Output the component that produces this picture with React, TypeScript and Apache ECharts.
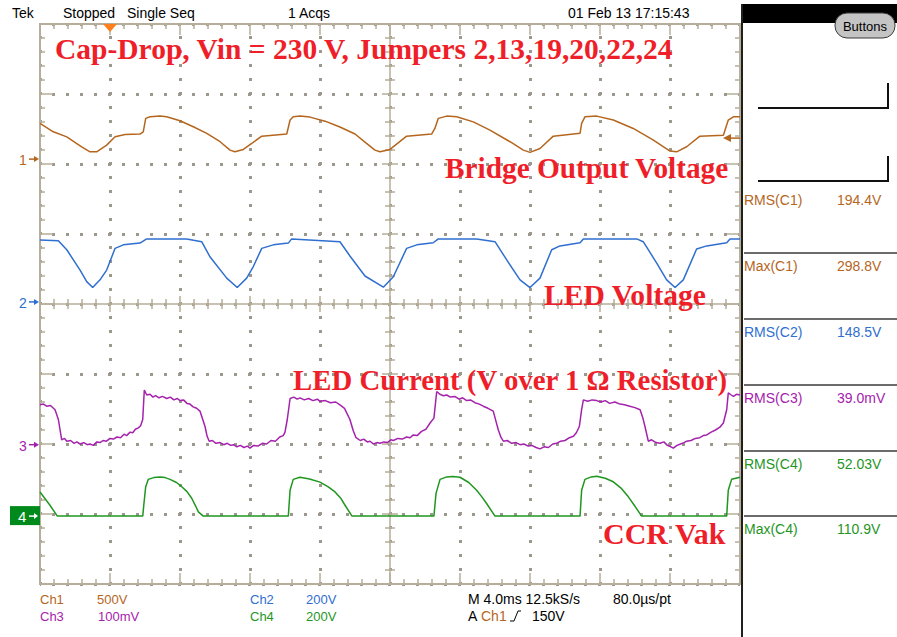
import React, { useEffect, useRef } from "react";
import * as echarts from "echarts";

// ---- Data (time in ms, 4 ms/div over 10 divisions) ----
const ch1Time = [0, 0.76, 1.53, 2.38, 2.86, 3.24, 3.81, 4.29, 4.86, 5.71, 5.9, 6.04, 6.29, 6.86, 7.24, 8.0, 8.76, 9.53, 10.29, 10.86, 11.14, 11.62, 12.1, 12.67, 14.1, 14.29, 14.47, 14.86, 15.43, 16.29, 17.14, 18.0, 18.57, 19.14, 19.43, 20.0, 20.95, 22.38, 22.57, 22.76, 23.24, 23.81, 24.76, 25.71, 26.86, 27.62, 28.0, 28.57, 29.33, 30.86, 30.95, 31.14, 31.81, 32.76, 33.9, 35.05, 36.0, 36.38, 36.95, 37.71, 39.05, 39.33, 39.62, 40];
const ch1Volts = [255, 195, 159, 88, 52, 52, 100, 159, 176, 179, 195, 291, 302, 307, 302, 274, 231, 184, 124, 64, 52, 69, 112, 164, 179, 279, 302, 307, 300, 271, 229, 179, 121, 64, 52, 69, 164, 179, 221, 291, 307, 302, 266, 207, 124, 64, 48, 76, 164, 184, 255, 302, 307, 279, 219, 136, 57, 52, 88, 164, 171, 279, 302, 302];

const ch2Time = [0, 1.05, 1.53, 2.29, 2.67, 3.01, 3.43, 3.81, 4.29, 4.76, 5.71, 6.1, 8.38, 9.24, 9.71, 10.67, 11.27, 11.81, 12.19, 12.67, 13.33, 14.19, 14.38, 17.14, 17.71, 18.57, 19.62, 20.19, 20.95, 21.53, 22.47, 22.76, 24.95, 26.0, 26.67, 27.43, 28.0, 28.57, 29.24, 29.71, 30.86, 31.05, 34.1, 34.47, 35.24, 35.81, 36.29, 36.76, 37.52, 38.1, 39.24, 39.43, 40];
const ch2Volts = [177, 175, 149, 91, 58, 41, 63, 91, 153, 163, 168, 180, 180, 172, 129, 68, 41, 68, 101, 153, 163, 168, 180, 172, 131, 74, 42, 72, 153, 163, 169, 180, 180, 172, 120, 63, 41, 68, 149, 160, 169, 180, 180, 172, 111, 63, 41, 63, 151, 160, 169, 180, 180];

const ch3Time = [0, 0.2, 0.38, 0.6, 0.86, 1.05, 1.24, 1.4, 1.53, 1.75, 1.95, 2.1, 2.29, 2.5, 2.7, 2.86, 3.05, 3.25, 3.43, 3.6, 3.8, 4.0, 4.19, 4.4, 4.6, 4.8, 4.95, 5.15, 5.3, 5.45, 5.62, 5.75, 5.87, 5.96, 6.1, 6.29, 6.45, 6.6, 6.8, 7.0, 7.24, 7.45, 7.65, 7.85, 8.0, 8.2, 8.4, 8.57, 8.75, 8.95, 9.14, 9.3, 9.43, 9.55, 9.67, 9.85, 10.05, 10.29, 10.5, 10.7, 10.9, 11.05, 11.25, 11.45, 11.65, 11.85, 12.0, 12.2, 12.45, 12.7, 12.95, 13.2, 13.45, 13.7, 13.9, 14.0, 14.13, 14.29, 14.5, 14.7, 14.86, 15.1, 15.35, 15.6, 15.85, 16.0, 16.3, 16.6, 16.9, 17.14, 17.4, 17.71, 17.9, 18.06, 18.3, 18.5, 18.7, 18.86, 19.05, 19.25, 19.43, 19.65, 19.85, 20.05, 20.19, 20.45, 20.7, 20.95, 21.15, 21.33, 21.55, 21.8, 22.05, 22.29, 22.51, 22.67, 22.85, 23.05, 23.24, 23.45, 23.7, 23.95, 24.15, 24.38, 24.6, 24.85, 25.1, 25.33, 25.6, 25.9, 26.05, 26.19, 26.35, 26.48, 26.7, 26.95, 27.2, 27.43, 27.65, 27.9, 28.1, 28.35, 28.57, 28.8, 29.05, 29.3, 29.52, 29.75, 30.0, 30.25, 30.48, 30.65, 30.82, 30.95, 31.05, 31.3, 31.55, 31.81, 32.05, 32.3, 32.55, 32.85, 33.14, 33.4, 33.7, 34.0, 34.29, 34.45, 34.57, 34.76, 34.95, 35.2, 35.43, 35.65, 35.85, 36.05, 36.19, 36.4, 36.6, 36.8, 36.95, 37.2, 37.45, 37.7, 37.9, 38.1, 38.35, 38.6, 38.85, 39.05, 39.24, 39.33, 39.5, 39.62, 39.8, 40];
const ch3MilliVolts = [57, 58, 55, 56, 50, 36, 7, 9, 5, 6, 2, 4, 1, 3, 0, 1, -1, 4, 3, 6, 5, 9, 8, 11, 10, 15, 13, 18, 17, 22, 24, 27, 36, 78, 71, 72, 68, 70, 67, 69, 66, 68, 64, 66, 63, 64, 59, 58, 54, 52, 48, 36, 26, 12, 5, 6, 2, 3, 0, 2, -1, 0, -3, -1, -4, -2, -5, -1, -2, 2, 1, 6, 5, 11, 13, 18, 36, 66, 68, 65, 67, 64, 66, 63, 65, 62, 63, 60, 61, 57, 52, 36, 20, 10, 6, 8, 4, 5, 1, 3, 2, 4, 3, 7, 6, 9, 8, 11, 10, 14, 13, 19, 22, 31, 38, 76, 72, 70, 71, 68, 69, 65, 67, 63, 64, 60, 58, 55, 52, 48, 34, 21, 10, 5, 6, 2, 3, 0, 1, -2, -1, -4, -6, -3, -4, 1, 2, 5, 6, 10, 12, 17, 26, 50, 64, 62, 64, 63, 61, 63, 59, 61, 58, 57, 55, 53, 50, 38, 26, 5, 7, 3, 2, 4, -1, -3, -5, -1, 1, 3, 5, 6, 9, 10, 13, 14, 18, 21, 25, 31, 50, 74, 71, 69, 72, 71];

const ch4Time = [0, 0.57, 0.99, 5.87, 5.94, 6.04, 6.19, 6.5, 6.86, 7.15, 7.43, 7.8, 8.1, 8.4, 8.67, 8.9, 9.05, 9.33, 14.19, 14.29, 14.47, 14.86, 15.4, 16.0, 16.45, 16.86, 17.2, 17.43, 17.83, 22.51, 22.63, 22.86, 23.24, 23.6, 24.0, 24.5, 24.95, 25.25, 25.52, 26.0, 30.86, 30.95, 31.14, 31.5, 31.81, 32.3, 32.76, 33.2, 33.62, 34.0, 34.38, 39.24, 39.33, 39.52, 40];
const ch4Volts = [69, 31, 0, 0, 36, 84, 105, 110, 112, 110, 105, 96, 84, 70, 51, 28, 12, 0, 0, 74, 105, 111, 106, 97, 84, 69, 50, 31, 0, 0, 65, 105, 112, 113, 111, 96, 74, 55, 36, 0, 0, 74, 105, 112, 114, 108, 98, 80, 55, 28, 0, 0, 74, 105, 111];

// ---- Channel settings (volts/div, position in divisions above centre) ----
const channelNames = ["Ch1", "Ch2", "Ch3", "Ch4"];
const channelLabels = ["1", "2", "3", "4"];
const channelScales = [500, 200, 100, 200];
const channelOffsets = [2.07, 0.03, -2.01, -3.03];
const channelColors = ["#b5661e", "#2f6fcf", "#a522ad", "#1f961f"];
const channelTimes = [ch1Time, ch2Time, ch3Time, ch4Time];
const channelValues = [ch1Volts, ch2Volts, ch3MilliVolts, ch4Volts];

// ---- Readouts ----
const readoutNames = ["RMS(C1)", "Max(C1)", "RMS(C2)", "RMS(C3)", "RMS(C4)", "Max(C4)"];
const readoutValues = ["194.4V", "298.8V", "148.5V", "39.0mV", "52.03V", "110.9V"];
const readoutChannel = [0, 0, 1, 2, 3, 3];

const GL = 40, GT = 24, GW = 700, GH = 560, DIV = 70, MINOR = 14;
const SANS = "'Liberation Sans', Arial, sans-serif";
const SERIF = "'Liberation Serif', 'Times New Roman', serif";
const RED = "#ef1f2a";
const TAN = "#b6ae9a";
const DOT = "#9c988e";

function buildGraphic(): any[] {
  const els: any[] = [];
  const line = (x1: number, y1: number, x2: number, y2: number, stroke: string, lw = 1.5) => {
    els.push({ type: "line", silent: true, z: 1, shape: { x1, y1, x2, y2 }, style: { stroke, lineWidth: lw } });
  };
  const GR = GL + GW, GB = GT + GH, CX = GL + GW / 2, CY = GT + GH / 2;
  // centre lines
  line(GL, CY, GR, CY, TAN, 1.5);
  line(CX, GT, CX, GB, TAN, 1.5);
  // ticks
  for (let j = 1; j < GW / MINOR; j++) {
    const x = GL + j * MINOR;
    const major = j % 5 === 0;
    const len = major ? 11 : 5;
    line(x, GT, x, GT + len, TAN, 1.5);
    line(x, GB, x, GB - len, TAN, 1.5);
    line(x, CY - (major ? 8 : 5), x, CY + (major ? 8 : 5), TAN, 1.5);
  }
  for (let j = 1; j < GH / MINOR; j++) {
    const y = GT + j * MINOR;
    const major = j % 5 === 0;
    const len = major ? 13 : 5;
    line(GL, y, GL + len, y, TAN, 1.5);
    line(GR, y, GR - len, y, TAN, 1.5);
    line(CX - (major ? 8 : 5), y, CX + (major ? 8 : 5), y, TAN, 1.5);
  }
  // border
  els.push({ type: "rect", silent: true, z: 1, shape: { x: GL, y: GT, width: GW, height: GH }, style: { fill: "none", stroke: TAN, lineWidth: 2 } });

  // channel ground markers
  channelOffsets.forEach((off, i) => {
    const y = CY - off * DIV;
    const c = channelColors[i];
    if (i === 3) {
      els.push({ type: "rect", z: 5, shape: { x: 10, y: y - 10, width: 30, height: 19 }, style: { fill: "#008a1c" } });
      els.push({ type: "text", z: 6, style: { x: 18, y, text: channelLabels[i], fill: "#ffffff", font: `15px ${SANS}`, verticalAlign: "middle" } });
      els.push({ type: "line", z: 6, shape: { x1: 29, y1: y, x2: 36, y2: y }, style: { stroke: "#ffffff", lineWidth: 1.5 } });
      els.push({ type: "polygon", z: 6, shape: { points: [[38, y], [34, y - 3], [34, y + 3]] }, style: { fill: "#ffffff" } });
    } else {
      els.push({ type: "text", z: 6, style: { x: 19, y: y + 1, text: channelLabels[i], fill: c, font: `14px ${SANS}`, verticalAlign: "middle" } });
      els.push({ type: "line", z: 6, shape: { x1: 29, y1: y, x2: 36, y2: y }, style: { stroke: c, lineWidth: 1.5 } });
      els.push({ type: "polygon", z: 6, shape: { points: [[39, y], [34, y - 3], [34, y + 3]] }, style: { fill: c } });
    }
  });

  // trigger position marker (top) and trigger level (right)
  els.push({ type: "polygon", z: 6, shape: { points: [[103, GT], [117, GT], [110, GT + 8]] }, style: { fill: "#ff7f1e" } });
  const trigY = CY - channelOffsets[0] * DIV - (150 / channelScales[0]) * DIV;
  els.push({ type: "polygon", z: 6, shape: { points: [[723, trigY], [731, trigY - 4], [731, trigY + 4]] }, style: { fill: channelColors[0] } });
  els.push({ type: "line", z: 6, shape: { x1: 730, y1: trigY, x2: 740, y2: trigY }, style: { stroke: channelColors[0], lineWidth: 1.5 } });

  // top status line
  const status = (x: number, y: number, text: string, fill = "#000000", size = 14) =>
    els.push({ type: "text", z: 6, style: { x, y, text, fill, font: `${size}px ${SANS}`, verticalAlign: "middle" } });
  status(12, 13, "Tek");
  status(63, 13, "Stopped");
  status(127, 13, "Single Seq");
  status(288, 13, "1 Acqs");
  status(568, 13, "01 Feb 13 17:15:43");

  // bottom readouts
  status(40, 599, channelNames[0], channelColors[0], 13);
  status(97, 599, "500V", channelColors[0], 13);
  status(40, 616, channelNames[2], channelColors[2], 13);
  status(98, 616, "100mV", channelColors[2], 13);
  status(250, 599, channelNames[1], channelColors[1], 13);
  status(306, 599, "200V", channelColors[1], 13);
  status(250, 616, channelNames[3], channelColors[3], 13);
  status(306, 616, "200V", channelColors[3], 13);
  status(468, 599, "M 4.0ms 12.5kS/s");
  status(613, 599, "80.0µs/pt");
  status(468, 616, "A");
  status(481, 616, "Ch1", channelColors[0]);
  els.push({ type: "polyline", z: 6, shape: { points: [[510, 621], [514, 621], [518, 611], [521, 611]] }, style: { stroke: "#000000", lineWidth: 1, fill: "none" } });
  status(532, 616, "150V");

  // right panel
  els.push({ type: "rect", z: 5, shape: { x: 742, y: 4, width: 155, height: 19 }, style: { fill: "#000000" } });
  els.push({ type: "line", z: 5, shape: { x1: 742, y1: 4, x2: 742, y2: 637 }, style: { stroke: "#202020", lineWidth: 2 } });
  els.push({ type: "rect", z: 6, shape: { x: 835, y: 13, width: 60, height: 25, r: 12 }, style: { fill: "#c4c4c4", stroke: "#3a3a3a", lineWidth: 1 } });
  els.push({ type: "text", z: 7, style: { x: 865, y: 26, text: "Buttons", fill: "#000000", font: `13px ${SANS}`, align: "center", verticalAlign: "middle" } });
  els.push({ type: "polyline", z: 6, shape: { points: [[758, 108], [888, 108], [888, 83]] }, style: { stroke: "#111111", lineWidth: 2, fill: "none" } });
  els.push({ type: "polyline", z: 6, shape: { points: [[758, 181], [888, 181], [888, 156]] }, style: { stroke: "#111111", lineWidth: 2, fill: "none" } });
  const rowY = [200, 266, 332, 398, 464, 529];
  const sepY = [253, 319, 385, 451, 516];
  sepY.forEach((y) => els.push({ type: "line", z: 6, shape: { x1: 744, y1: y, x2: 897, y2: y }, style: { stroke: "#3a3a3a", lineWidth: 1.5 } }));
  readoutNames.forEach((n, i) => {
    const c = channelColors[readoutChannel[i]];
    status(744, rowY[i], n, c);
    status(837, rowY[i], readoutValues[i], c);
  });

  // red annotations
  const red = (x: number, y: number, text: string, size: number) =>
    els.push({ type: "text", z: 20, style: { x, y, text, fill: RED, font: `bold ${size}px ${SERIF}`, verticalAlign: "middle" } });
  red(55, 49, "Cap-Drop, Vin = 230 V, Jumpers 2,13,19,20,22,24", 29.5);
  red(445, 168, "Bridge Output Voltage", 29.3);
  red(544, 295, "LED Voltage", 29.6);
  red(293, 380, "LED Current (V over 1 Ω Resistor)", 28.8);
  red(603, 533, "CCR Vak", 30);
  return els;
}

export default function App() {
  const ref = useRef<HTMLDivElement>(null);
  useEffect(() => {
    if (!ref.current) return;
    const chart = echarts.init(ref.current, undefined, { renderer: "svg" });
    const dotted = { show: true, lineStyle: { color: DOT, width: 3, type: [3, 11], dashOffset: 1.5 } };
    const yAxes: any[] = channelScales.map((s, i) => ({
      type: "value",
      min: (-4 - channelOffsets[i]) * s,
      max: (4 - channelOffsets[i]) * s,
      show: false,
      splitLine: { show: false },
    }));
    // graticule rows: 8 vertical divisions
    yAxes.push({
      type: "value", min: 0, max: 8, interval: 1, show: true,
      axisLine: { show: false }, axisTick: { show: false }, axisLabel: { show: false },
      splitLine: dotted,
    });
    const series = channelTimes.map((ts, i) => ({
      name: channelNames[i],
      type: "line",
      xAxisIndex: 0,
      yAxisIndex: i,
      data: ts.map((t, k) => [t, channelValues[i][k]]),
      showSymbol: false,
      symbol: "none",
      clip: true,
      silent: true,
      z: 10,
      lineStyle: { color: channelColors[i], width: 1.5 },
      itemStyle: { color: channelColors[i] },
    }));
    chart.setOption({
      animation: false,
      backgroundColor: "#ffffff",
      grid: { left: GL, top: GT, width: GW, height: GH, containLabel: false },
      xAxis: {
        type: "value", min: 0, max: 40, interval: 4, show: true,
        axisLine: { show: false }, axisTick: { show: false }, axisLabel: { show: false },
        splitLine: dotted,
      },
      yAxis: yAxes,
      series,
      graphic: buildGraphic(),
    });
    return () => chart.dispose();
  }, []);
  return <div ref={ref} style={{ position: "fixed", left: 0, top: 0, width: 897, height: 637, background: "#fff" }} />;
}
